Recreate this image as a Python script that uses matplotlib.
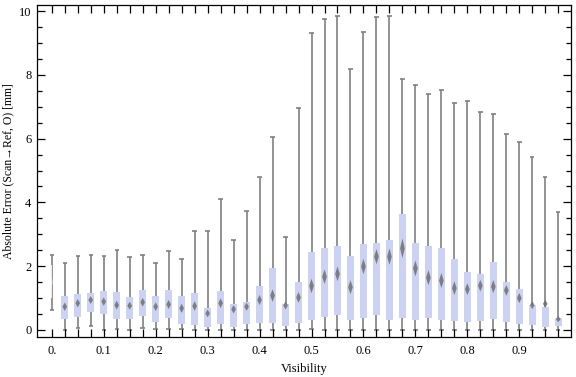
#!/usr/bin/env python3

import matplotlib
matplotlib.use("Agg")
import matplotlib.pyplot as plt
from matplotlib.patches import Polygon
from matplotlib.ticker import MultipleLocator

plt.rcParams['font.family'] = ['Liberation Serif', 'DejaVu Serif']

# visibility bins (box positions)
visibility = [i * 0.025 for i in range(40)]

# whisker bottom, lower quartile, median, upper quartile, whisker top
whisker_low = [0.63, 0.0, 0.06, 0.14, 0.0, 0.04, 0.01, 0.05, 0.02, 0.02,
               0.02, 0.0, 0.0, 0.0, 0.0, 0.0, 0.0, 0.0, 0.0, 0.0,
               0.02, 0.0, 0.0, 0.0, 0.0, 0.0, 0.0, 0.0, 0.0, 0.0,
               0.0, 0.0, 0.0, 0.0, 0.0, 0.0, 0.0, 0.0, 0.0, 0.0]
q1 = [1.0, 0.36, 0.40, 0.56, 0.50, 0.36, 0.36, 0.44, 0.26, 0.39,
      0.20, 0.17, 0.10, 0.20, 0.10, 0.20, 0.23, 0.23, 0.14, 0.23,
      0.32, 0.42, 0.48, 0.31, 0.39, 0.48, 0.31, 0.37, 0.31, 0.37,
      0.31, 0.29, 0.26, 0.29, 0.35, 0.26, 0.19, 0.16, 0.09, 0.13]
median = [1.5, 0.73, 0.84, 0.94, 0.89, 0.78, 0.76, 0.87, 0.73, 0.80,
          0.68, 0.75, 0.52, 0.84, 0.65, 0.73, 0.94, 1.08, 0.77, 1.02,
          1.38, 1.67, 1.76, 1.34, 1.99, 2.30, 2.30, 2.56, 1.93, 1.64,
          1.55, 1.31, 1.28, 1.39, 1.36, 1.24, 1.00, 0.78, 0.82, 0.34]
q3 = [2.04, 1.07, 1.13, 1.16, 1.22, 1.18, 1.02, 1.25, 1.07, 1.25,
      1.07, 1.16, 0.69, 1.22, 0.82, 0.88, 1.38, 1.94, 0.82, 1.50,
      2.45, 2.56, 2.62, 2.32, 2.70, 2.73, 2.82, 3.64, 2.72, 2.63,
      2.57, 2.23, 1.81, 1.76, 2.13, 1.52, 1.30, 0.77, 0.71, 0.37]
whisker_high = [2.35, 2.11, 2.32, 2.34, 2.32, 2.50, 2.29, 2.34, 2.09, 2.47,
                2.22, 3.09, 3.09, 4.10, 2.82, 3.74, 4.79, 6.04, 2.91, 6.95,
                9.30, 9.74, 9.86, 8.17, 9.33, 9.80, 9.84, 7.86, 7.67, 7.39,
                7.51, 7.13, 7.18, 6.85, 6.76, 6.16, 5.91, 5.43, 4.79, 3.71]

x_labels = ["0.", "0.1", "0.2", "0.3", "0.4", "0.5", "0.6", "0.7", "0.8", "0.9"]

box_color = '#cbd2f4'
line_color = '#808080'
box_w = 0.0135
cap_w = 0.0085

fig = plt.figure(figsize=(5.76, 3.77), dpi=100)
ax = fig.add_axes([0.0642, 0.1061, 0.9271, 0.8806])

for i, x in enumerate(visibility):
    ax.vlines(x, whisker_low[i], whisker_high[i], color=line_color, lw=1.2, zorder=1)
    for y in (whisker_low[i], whisker_high[i]):
        ax.hlines(y, x - cap_w / 2, x + cap_w / 2, color=line_color, lw=1.2, zorder=1)
    w = box_w
    c = box_color
    if i == 0:
        # first bin is drawn almost empty in the original
        w = box_w * 0.2
        c = '#e6e9fa'
    ax.bar(x, q3[i] - q1[i], bottom=q1[i], width=w, color=c, lw=0, zorder=2)
    # median diamond
    hh = 0.07 * (q3[i] - q1[i]) + 0.08
    hw = 0.0045 if i > 0 else 0.0015
    dc = '#6f6f6f' if i > 0 else '#f4f4f4'
    d = Polygon([(x - hw, median[i]), (x, median[i] + hh),
                 (x + hw, median[i]), (x, median[i] - hh)],
                closed=True, facecolor=dc, edgecolor='none', alpha=0.85, zorder=3)
    ax.add_patch(d)

ax.set_xlim(-0.0285, 0.9995)
ax.set_ylim(-0.22, 10.19)

ax.set_xticks(visibility)
ax.set_xticklabels([x_labels[i // 4] if i % 4 == 0 else "" for i in range(len(visibility))])
ax.yaxis.set_major_locator(MultipleLocator(2))
ax.yaxis.set_minor_locator(MultipleLocator(0.5))

ax.tick_params(axis='both', which='major', direction='in', length=6, width=0.9,
               top=True, right=True, labelsize=9, colors='black')
ax.tick_params(axis='x', which='major', pad=6)
ax.tick_params(axis='y', which='major', pad=4)
ax.tick_params(axis='y', which='minor', direction='in', length=3.5, width=0.9, right=True)
for s in ax.spines.values():
    s.set_linewidth(0.9)

ax.set_xlabel("Visibility", fontsize=9, labelpad=4)
ax.set_ylabel("Absolute Error (Scan\u2192Ref, O) [mm]", fontsize=8.5, labelpad=3)

fig.savefig("out.png", dpi=100)
